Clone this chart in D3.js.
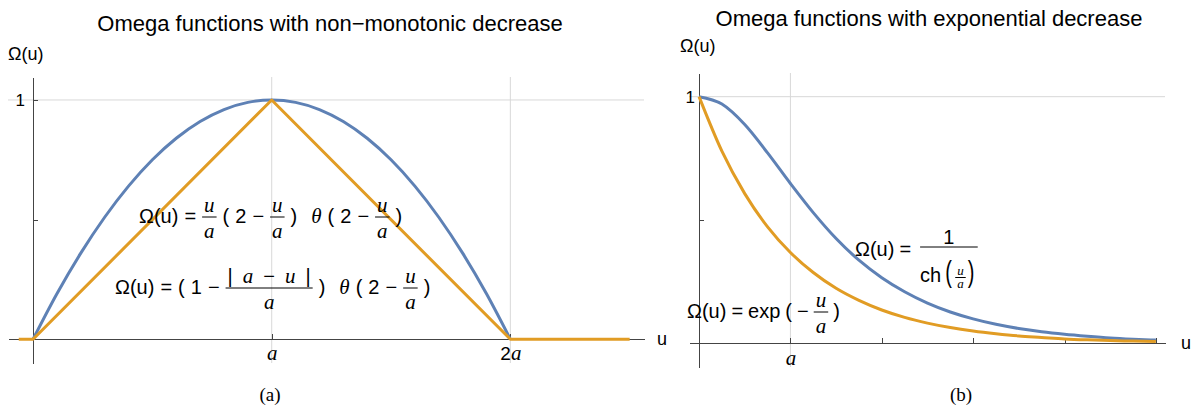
<!DOCTYPE html>
<html>
<head>
<meta charset="utf-8">
<script src="https://cdn.jsdelivr.net/npm/d3@7"></script>
<style>
body { margin: 0; background: #fff; }
svg { display: block; }
text { font-family: "Liberation Sans", Arial, sans-serif; fill: #000; }
.it { font-family: "Liberation Serif", "Times New Roman", serif; font-style: italic; }
.serif { font-family: "Liberation Serif", "Times New Roman", serif; }
.axis path, .axis line { stroke: #444; shape-rendering: crispEdges; }
</style>
</head>
<body>
<script>
// u is measured in units of a

// (a) non-monotonic decrease
const uParabola = [0, 0.1, 0.2, 0.3, 0.4, 0.5, 0.6, 0.7, 0.8, 0.9, 1, 1.1, 1.2, 1.3, 1.4, 1.5, 1.6, 1.7, 1.8, 1.9, 2];
const omegaParabola = [0, 0.19, 0.36, 0.51, 0.64, 0.75, 0.84, 0.91, 0.96, 0.99, 1, 0.99, 0.96, 0.91, 0.84, 0.75, 0.64, 0.51, 0.36, 0.19, 0];
const uTriangle = [-0.06, 0, 1, 2, 2.5];
const omegaTriangle = [0, 0, 1, 0, 0];

// (b) exponential decrease
const uDecay = [0, 0.25, 0.5, 0.75, 1, 1.25, 1.5, 1.75, 2, 2.25, 2.5, 2.75, 3, 3.25, 3.5, 3.75, 4, 4.25, 4.5, 4.75, 5];
const omegaSech = [1, 0.970, 0.887, 0.772, 0.648, 0.530, 0.425, 0.337, 0.266, 0.209, 0.163, 0.127, 0.099, 0.077, 0.060, 0.047, 0.037, 0.029, 0.022, 0.017, 0.013];
const omegaExp = [1, 0.779, 0.607, 0.472, 0.368, 0.287, 0.223, 0.174, 0.135, 0.105, 0.082, 0.064, 0.050, 0.039, 0.030, 0.024, 0.018, 0.014, 0.011, 0.009, 0.007];

const yTicks = [0.5, 1];
const leftXTicks = [1, 2];
const leftXLabels = ["a", "2a"];
const rightXTicks = [1, 2, 3, 4, 5];
const rightXLabels = ["a", "", "", "", ""];

const BLUE = "#5E81B5", ORANGE = "#E19C24";
const FS = 20, IFS = 21;

const svg = d3.select("body").append("svg")
  .attr("width", 1195)
  .attr("height", 409);

function drawPanel(p) {
  const g = svg.append("g");
  const x = d3.scaleLinear().domain(p.xDomain).range(p.xRange);
  const y = d3.scaleLinear().domain(p.yDomain).range(p.yRange);

  // grid lines
  p.xGrid.forEach(function(v) {
    g.append("line")
      .attr("x1", x(v)).attr("x2", x(v))
      .attr("y1", p.yRange[0]).attr("y2", p.yRange[1])
      .attr("stroke", "#d8d8d8");
  });
  g.append("line")
    .attr("x1", p.xRange[0]).attr("x2", p.xRange[1])
    .attr("y1", y(1)).attr("y2", y(1))
    .attr("stroke", "#d8d8d8");

  const xAxis = d3.axisBottom(x)
    .tickValues(p.xTicks)
    .tickFormat(function(d, i) { return p.xLabels[i]; })
    .tickSize(-5).tickSizeOuter(0).tickPadding(p.xPad);
  const xg = g.append("g").attr("class", "axis")
    .attr("transform", "translate(0," + y(0) + ")")
    .call(xAxis);
  xg.selectAll(".tick text").each(function(d, i) {
    const t = d3.select(this).text(null).attr("font-size", IFS).attr("fill", "#000");
    const lab = p.xLabels[i];
    if (lab.length > 1) t.append("tspan").attr("font-size", 19).text(lab.slice(0, -1));
    if (lab) t.append("tspan").attr("class", "it").text(lab.slice(-1));
  });

  const yAxis = d3.axisLeft(y)
    .tickValues(yTicks)
    .tickFormat(function(d) { return d === 1 ? "1" : ""; })
    .tickSize(-5).tickSizeOuter(0).tickPadding(p.yPad);
  g.append("g").attr("class", "axis")
    .attr("transform", "translate(" + x(0) + ",0)")
    .call(yAxis)
    .selectAll("text").attr("font-size", 17).attr("fill", "#000")
    .style("font-family", "'Liberation Sans', Arial, sans-serif");

  const line = d3.line()
    .x(function(d) { return x(d[0]); })
    .y(function(d) { return y(d[1]); });

  p.series.forEach(function(s) {
    g.append("path")
      .datum(d3.zip(s.u, s.v))
      .attr("fill", "none")
      .attr("stroke", s.color)
      .attr("stroke-width", 3)
      .attr("stroke-linejoin", "round")
      .attr("d", line.curve(s.curve));
  });

  // titles and axis labels
  g.append("text").attr("x", p.titleX).attr("y", p.titleY)
    .attr("text-anchor", "middle").attr("font-size", 22).text(p.title);
  g.append("text").attr("x", p.yLabelX).attr("y", p.yLabelY)
    .attr("font-size", 18).text("Ω(u)");
  g.append("text").attr("x", p.uLabelX).attr("y", y(0) + 6)
    .attr("font-size", 18).text("u");
  g.append("text").attr("class", "serif")
    .attr("x", p.capX).attr("y", 401)
    .attr("text-anchor", "middle").attr("font-size", 19).text(p.caption);

  return g;
}

// pieces: string -> upright sans, {i: "u"} -> italic serif
function rich(g, parts, yy, fs, ifs) {
  const t = g.append("text").attr("y", yy).style("white-space", "pre");
  parts.forEach(function(q) {
    const s = t.append("tspan");
    if (typeof q === "string") s.attr("font-size", fs || FS).text(q);
    else s.attr("class", "it").attr("font-size", ifs || IFS).text(q.i);
  });
  return t;
}

function frac(g, x0, bar, num, den, fs, ifs, up, down) {
  const nt = rich(g, num, bar - (up || 5), fs, ifs);
  const dt = rich(g, den, bar + (down || 21), fs, ifs);
  const w = Math.max(nt.node().getComputedTextLength(), dt.node().getComputedTextLength()) + 4;
  nt.attr("x", x0 + w / 2).attr("text-anchor", "middle");
  dt.attr("x", x0 + w / 2).attr("text-anchor", "middle");
  g.append("line")
    .attr("x1", x0).attr("x2", x0 + w)
    .attr("y1", bar).attr("y2", bar)
    .attr("stroke", "#000").attr("stroke-width", 1);
  return w;
}

function formula(g, x0, base, parts, gap) {
  let xx = x0;
  parts.forEach(function(q) {
    if (q.n) xx += frac(g, xx, base - 6, q.n, q.d) + gap;
    else if (q.sp) xx += q.sp;
    else xx += rich(g, [q], base).attr("x", xx).node().getComputedTextLength() + gap;
  });
  return xx;
}

const uOverA = { n: [{ i: "u" }], d: [{ i: "a" }] };
const sp = "\u2002";

const left = drawPanel({
  xDomain: [-0.105, 2.56], xRange: [8, 644],
  yDomain: [-0.099, 1.096], yRange: [363, 77],
  xGrid: [1, 2], xTicks: leftXTicks, xLabels: leftXLabels, yPad: 8, xPad: 6,
  series: [
    { u: uParabola, v: omegaParabola, color: BLUE, curve: d3.curveMonotoneX },
    { u: uTriangle, v: omegaTriangle, color: ORANGE, curve: d3.curveLinear }
  ],
  title: "Omega functions with non\u2212monotonic decrease", titleX: 330, titleY: 31,
  yLabelX: 8, yLabelY: 60, uLabelX: 657, capX: 270, caption: "(a)"
});

formula(left, 139, 223, ["Ω(u)", "=", uOverA, "(", "2", "\u2212", uOverA, ")", { sp: 8 },
  { i: "θ" }, "(", "2", "\u2212", uOverA, ")"], 6);
formula(left, 115, 294, ["Ω(u)", "=", "(", "1", "\u2212",
  { n: ["|" + sp, { i: "a" }, sp + "\u2212" + sp, { i: "u" }, sp + "|"], d: [{ i: "a" }] },
  ")", { sp: 8 }, { i: "θ" }, "(", "2", "\u2212", uOverA, ")"], 6);

const right = drawPanel({
  xDomain: [-0.11, 5.1], xRange: [689, 1165],
  yDomain: [-0.096, 1.096], yRange: [367, 73],
  xGrid: [1], xTicks: rightXTicks, xLabels: rightXLabels, yPad: 4, xPad: 7,
  series: [
    { u: uDecay, v: omegaSech, color: BLUE, curve: d3.curveMonotoneX },
    { u: uDecay, v: omegaExp, color: ORANGE, curve: d3.curveMonotoneX }
  ],
  title: "Omega functions with exponential decrease", titleX: 929, titleY: 26,
  yLabelX: 680, yLabelY: 52, uLabelX: 1181, capX: 961, caption: "(b)"
});

formula(right, 687, 318, ["Ω(u)", "=", "exp", "(", "\u2212", uOverA, ")"], 5);

// Ω(u) = 1 / ch(u/a)
(function() {
  const base = 256, bar = 247;
  let xx = formula(right, 855, base, ["Ω(u)", "="], 5) + 4;
  const x0 = xx;
  const dBase = 282;
  xx += rich(right, ["ch"], dBase).attr("x", xx).node().getComputedTextLength() + 4;
  right.append("text").attr("font-size", FS)
    .attr("transform", "translate(" + xx + "," + dBase + ") scale(1,1.5)").text("(");
  xx += 10;
  xx += frac(right, xx, 277.5, [{ i: "u" }], [{ i: "a" }], 12, 13, 3, 10) + 2;
  right.append("text").attr("font-size", FS)
    .attr("transform", "translate(" + xx + "," + dBase + ") scale(1,1.5)").text(")");
  xx += 8;
  const w = xx - x0 + 2;
  right.append("line")
    .attr("x1", x0).attr("x2", x0 + w)
    .attr("y1", bar).attr("y2", bar)
    .attr("stroke", "#000");
  right.append("text").attr("x", x0 + w / 2).attr("y", bar - 3)
    .attr("text-anchor", "middle").attr("font-size", FS).text("1");
})();
</script>
</body>
</html>
